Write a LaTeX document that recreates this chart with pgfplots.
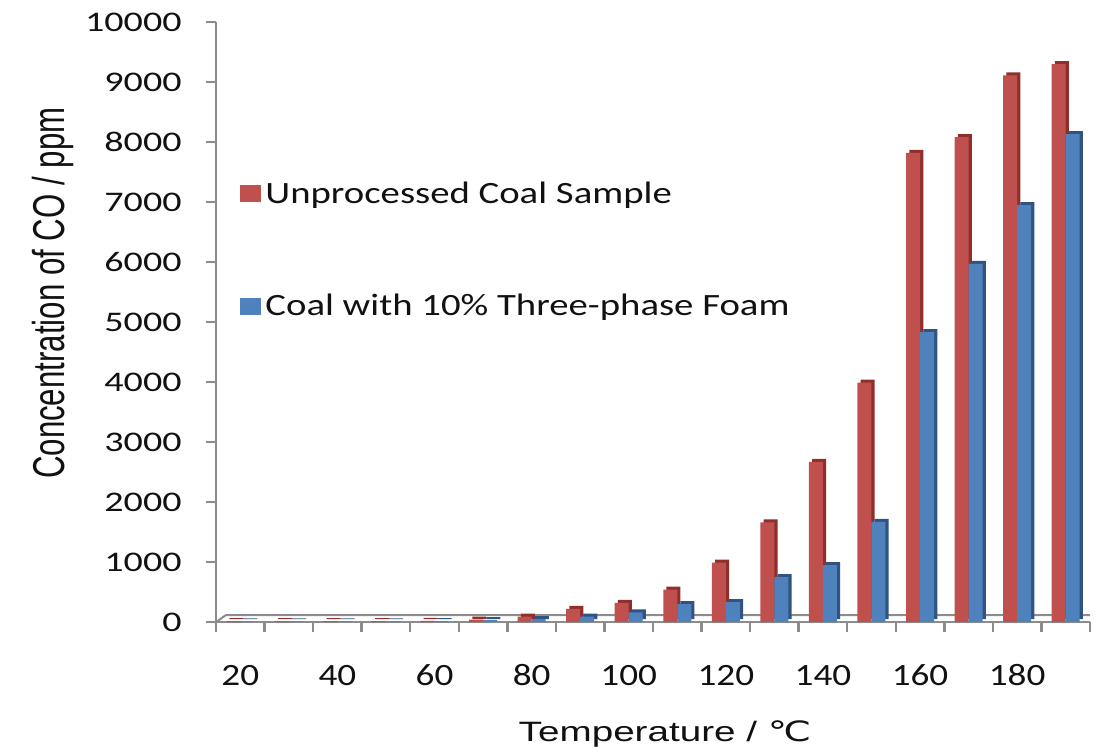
\documentclass[border=0pt]{standalone}
\usepackage{fontspec}
\usepackage{pgfplots}
\usepackage{pgfplotstable}
\pgfplotsset{compat=1.18}
\setmainfont{Carlito}
\newfontfamily\ytickfont[FakeStretch=1.34]{Carlito}
\newfontfamily\xtickfont[FakeStretch=1.2]{Carlito}
\newfontfamily\legfont[FakeStretch=1.25]{Carlito}
\newfontfamily\ylabfont[FakeStretch=0.7]{Liberation Sans}
\newfontfamily\xlabfont[FakeStretch=1.38]{Liberation Sans}
\newfontfamily\symfont[FakeStretch=1.38]{DejaVu Sans}
\definecolor{axgray}{HTML}{8C8C8C}
\definecolor{txt}{HTML}{111111}
\definecolor{cred}{HTML}{C0504D}
\definecolor{credside}{HTML}{8E2F2C}
\definecolor{cblue}{HTML}{4F81BD}
\definecolor{cblueside}{HTML}{2F5383}
\pgfplotstableread{
x red blue
0 15 10
1 15 10
2 15 10
3 15 10
4 20 15
5 40 30
6 90 50
7 220 90
8 320 160
9 540 300
10 990 330
11 1660 750
12 2670 950
13 3990 1670
14 7820 4830
15 8080 5970
16 9110 6950
17 9300 8130
}\data
\begin{document}
\begin{tikzpicture}
\path[use as bounding box] (-108pt,-65pt) rectangle (446.5pt,311pt);
\begin{axis}[
  at={(0,0)}, anchor=south west,
  scale only axis, width=437pt, height=300pt,
  xmin=-0.5, xmax=17.5, ymin=0, ymax=10000,
  axis x line=bottom, axis y line=left,
  axis line style={-, draw=axgray, line width=1.2pt},
  tick style={draw=axgray, line width=1.2pt},
  major tick length=5pt, tick align=outside,
  ytick={0,1000,...,10000},
  scaled y ticks=false,
  /pgf/number format/assume math mode=true,
  /pgf/number format/1000 sep={},
  yticklabel style={font=\ytickfont\fontsize{14.2}{17}\selectfont, text=txt, anchor=east, inner sep=0pt, xshift=-12pt},
  xtick={-0.5,0.5,...,17.5}, xticklabels={},
  extra x ticks={0,2,4,6,8,10,12,14,16},
  extra x tick labels={20,40,60,80,100,120,140,160,180},
  extra x tick style={major tick length=0pt, tick label style={font=\xtickfont\fontsize{15.5}{18}\selectfont, text=txt, anchor=base, yshift=-31.5pt}},
  xlabel={Temperature / {\symfont ℃}},
  xlabel style={font=\xlabfont\fontsize{14}{16}\selectfont, text=txt, at={(axis description cs:0.5,0)}, anchor=base, yshift=-59.5pt, xshift=6pt},
  ylabel={Concentration of CO / ppm},
  ylabel style={font=\ylabfont\fontsize{22.3}{26}\selectfont, text=txt, at={([xshift=-75.5pt]axis description cs:0,0.548)}, anchor=base},
  legend image code/.code={\fill[#1] (0pt,-4.25pt) rectangle (10.5pt,4.25pt);},
  legend style={at={(axis description cs:0.0275,0.62)}, anchor=west, draw=none, fill=none, inner sep=0pt,
    font=\legfont\fontsize{15.5}{18}\selectfont, text=txt, row sep=40pt, nodes={inner sep=2pt},
    /tikz/every even column/.append style={column sep=8pt}},
  legend cell align=left,
]
\draw[axgray, line width=1pt] (axis cs:-0.5,0) -- ([shift={(5pt,3.5pt)}]axis cs:-0.5,0) -- ([shift={(5pt,3.5pt)}]axis cs:17.5,0) -- (axis cs:17.5,0);
\addplot[ybar, bar width=7pt, bar shift=-3.5pt, fill=credside, draw=none, xshift=1.6pt, yshift=1.5pt, forget plot] table[x=x, y=red]{\data};
\addplot[ybar, bar width=7pt, bar shift=3.5pt, fill=cblueside, draw=none, xshift=1.6pt, yshift=1.5pt, forget plot] table[x=x, y=blue]{\data};
\addplot[ybar, bar width=7pt, bar shift=-3.5pt, fill=cred, draw=none] table[x=x, y=red]{\data};
\addplot[ybar, bar width=7pt, bar shift=3.5pt, fill=cblue, draw=none] table[x=x, y=blue]{\data};
\legend{Unprocessed Coal Sample, Coal with 10\% Three-phase Foam}
\end{axis}
\end{tikzpicture}
\end{document}
